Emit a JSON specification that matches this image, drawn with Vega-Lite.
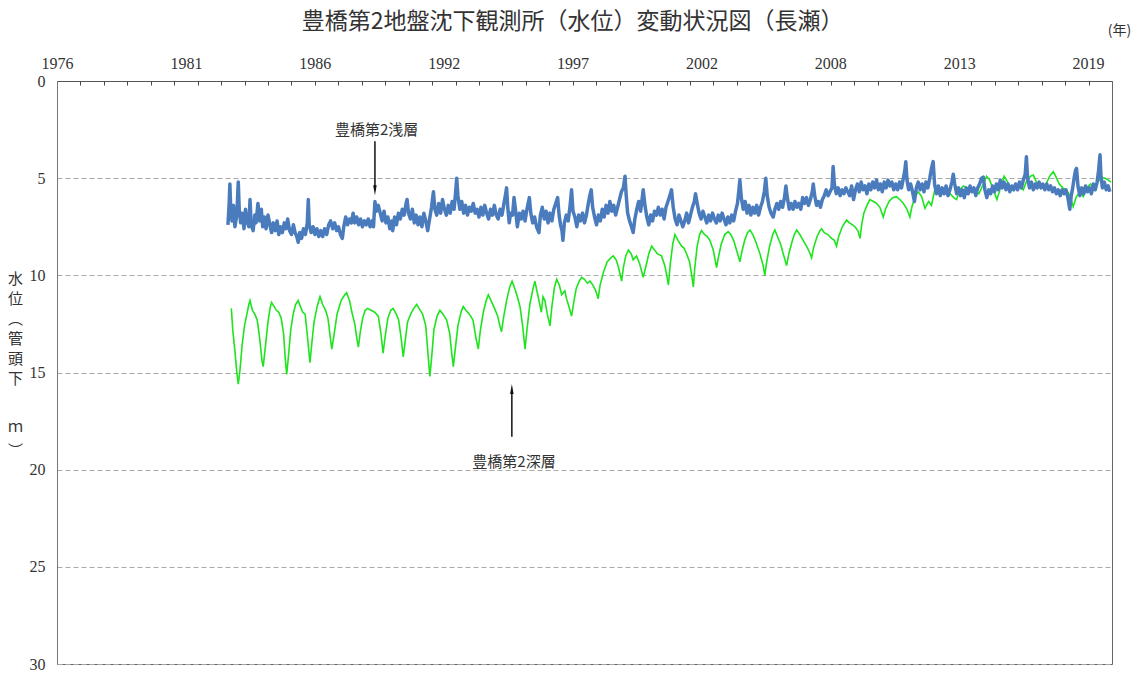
{
"$schema":"https://vega.github.io/schema/vega-lite/v6.json",
"width":1055,"height":583,
"autosize":{"type":"none"},
"padding":{"left":57,"top":81,"right":27,"bottom":10},
"background":"white",
"config":{"view":{"stroke":"#666","strokeWidth":1},"font":"Liberation Serif"},
"title":{"text":"豊橋第2地盤沈下観測所（水位）変動状況図（長瀬）","font":"Noto Sans CJK JP","fontSize":23,"fontWeight":"normal","color":"#333","anchor":"middle","offset":0,"dx":-12,"dy":11},
"datasets":{
"deep":[
{"x":1983.27,"y":11.7},{"x":1983.33,"y":12.8},{"x":1983.42,"y":13.9},{"x":1983.5,"y":15.0},{"x":1983.56,"y":15.6},{"x":1983.63,"y":14.9},{"x":1983.72,"y":13.6},{"x":1983.82,"y":12.6},{"x":1983.92,"y":12.0},
{"x":1984.0,"y":11.5},{"x":1984.05,"y":11.3},{"x":1984.15,"y":11.8},{"x":1984.25,"y":12.0},{"x":1984.35,"y":12.3},{"x":1984.45,"y":13.2},{"x":1984.55,"y":14.4},{"x":1984.6,"y":14.7},{"x":1984.68,"y":13.8},{"x":1984.8,"y":12.4},{"x":1984.9,"y":11.6},{"x":1984.95,"y":11.4},
{"x":1985.05,"y":11.6},{"x":1985.15,"y":11.8},{"x":1985.25,"y":11.9},{"x":1985.35,"y":12.2},{"x":1985.45,"y":13.0},{"x":1985.52,"y":14.3},{"x":1985.58,"y":15.1},{"x":1985.65,"y":14.2},{"x":1985.75,"y":12.8},{"x":1985.85,"y":12.0},{"x":1985.95,"y":11.5},
{"x":1986.06,"y":11.3},{"x":1986.15,"y":11.6},{"x":1986.25,"y":11.9},{"x":1986.35,"y":12.0},{"x":1986.45,"y":13.2},{"x":1986.55,"y":14.5},{"x":1986.62,"y":13.6},{"x":1986.72,"y":12.4},{"x":1986.85,"y":11.6},{"x":1986.97,"y":11.1},
{"x":1987.08,"y":11.5},{"x":1987.2,"y":11.8},{"x":1987.3,"y":12.2},{"x":1987.4,"y":13.2},{"x":1987.46,"y":13.8},{"x":1987.55,"y":13.1},{"x":1987.68,"y":12.0},{"x":1987.85,"y":11.3},{"x":1988.0,"y":11.0},
{"x":1988.08,"y":10.9},{"x":1988.2,"y":11.3},{"x":1988.3,"y":11.9},{"x":1988.42,"y":12.5},{"x":1988.5,"y":13.2},{"x":1988.57,"y":13.7},{"x":1988.65,"y":12.9},{"x":1988.75,"y":12.2},{"x":1988.85,"y":11.8},{"x":1988.95,"y":11.7},
{"x":1989.1,"y":11.8},{"x":1989.25,"y":11.9},{"x":1989.4,"y":12.1},{"x":1989.5,"y":12.9},{"x":1989.6,"y":14.0},{"x":1989.68,"y":13.2},{"x":1989.8,"y":12.2},{"x":1989.92,"y":11.8},{"x":1990.02,"y":11.7},
{"x":1990.15,"y":12.0},{"x":1990.25,"y":12.3},{"x":1990.35,"y":13.2},{"x":1990.44,"y":14.2},{"x":1990.52,"y":13.4},{"x":1990.62,"y":12.4},{"x":1990.75,"y":12.0},{"x":1990.88,"y":11.7},{"x":1991.0,"y":11.5},
{"x":1991.1,"y":11.7},{"x":1991.25,"y":12.0},{"x":1991.38,"y":12.6},{"x":1991.47,"y":14.0},{"x":1991.55,"y":15.2},{"x":1991.62,"y":14.3},{"x":1991.72,"y":12.8},{"x":1991.85,"y":12.1},{"x":1991.97,"y":11.8},
{"x":1992.1,"y":12.0},{"x":1992.25,"y":12.3},{"x":1992.38,"y":13.0},{"x":1992.47,"y":14.1},{"x":1992.53,"y":14.7},{"x":1992.6,"y":13.9},{"x":1992.72,"y":12.6},{"x":1992.85,"y":11.9},{"x":1992.94,"y":11.6},
{"x":1993.05,"y":11.8},{"x":1993.2,"y":12.0},{"x":1993.35,"y":12.3},{"x":1993.47,"y":13.2},{"x":1993.57,"y":13.8},{"x":1993.65,"y":12.9},{"x":1993.78,"y":11.9},{"x":1993.9,"y":11.3},{"x":1993.99,"y":11.0},
{"x":1994.1,"y":11.3},{"x":1994.25,"y":11.7},{"x":1994.38,"y":12.1},{"x":1994.47,"y":12.6},{"x":1994.54,"y":12.9},{"x":1994.62,"y":12.2},{"x":1994.75,"y":11.3},{"x":1994.88,"y":10.6},{"x":1994.98,"y":10.3},
{"x":1995.1,"y":10.7},{"x":1995.2,"y":11.1},{"x":1995.31,"y":11.6},{"x":1995.42,"y":12.6},{"x":1995.52,"y":13.8},{"x":1995.6,"y":12.8},{"x":1995.72,"y":11.5},{"x":1995.85,"y":10.7},{"x":1995.93,"y":10.3},
{"x":1996.05,"y":11.0},{"x":1996.2,"y":11.9},{"x":1996.27,"y":11.1},{"x":1996.35,"y":11.3},{"x":1996.45,"y":12.0},{"x":1996.56,"y":12.6},{"x":1996.65,"y":11.5},{"x":1996.75,"y":10.6},{"x":1996.84,"y":10.2},
{"x":1996.95,"y":10.5},{"x":1997.05,"y":11.0},{"x":1997.18,"y":10.8},{"x":1997.25,"y":11.2},{"x":1997.35,"y":11.6},{"x":1997.46,"y":12.1},{"x":1997.55,"y":11.4},{"x":1997.65,"y":10.7},{"x":1997.78,"y":10.3},{"x":1997.88,"y":10.1},
{"x":1998.0,"y":10.2},{"x":1998.12,"y":10.4},{"x":1998.23,"y":10.3},{"x":1998.35,"y":10.5},{"x":1998.47,"y":10.8},{"x":1998.57,"y":11.2},{"x":1998.65,"y":10.5},{"x":1998.8,"y":9.8},{"x":1998.95,"y":9.3},{"x":1999.1,"y":9.1},{"x":1999.2,"y":9.0},
{"x":1999.32,"y":9.2},{"x":1999.42,"y":9.6},{"x":1999.55,"y":10.3},{"x":1999.62,"y":9.6},{"x":1999.72,"y":9.0},{"x":1999.83,"y":8.7},
{"x":1999.95,"y":8.9},{"x":2000.03,"y":9.2},{"x":2000.17,"y":9.0},{"x":2000.3,"y":9.4},{"x":2000.45,"y":10.1},{"x":2000.55,"y":9.6},{"x":2000.68,"y":8.9},{"x":2000.8,"y":8.5},
{"x":2000.92,"y":8.7},{"x":2001.05,"y":8.9},{"x":2001.21,"y":9.0},{"x":2001.35,"y":9.5},{"x":2001.43,"y":10.0},{"x":2001.5,"y":10.5},{"x":2001.58,"y":9.4},{"x":2001.68,"y":8.4},{"x":2001.77,"y":7.9},
{"x":2001.9,"y":8.2},{"x":2002.05,"y":8.5},{"x":2002.15,"y":8.6},{"x":2002.26,"y":8.9},{"x":2002.38,"y":9.3},{"x":2002.47,"y":10.0},{"x":2002.54,"y":10.6},{"x":2002.6,"y":9.6},{"x":2002.7,"y":8.5},{"x":2002.8,"y":7.9},{"x":2002.88,"y":7.7},
{"x":2003.0,"y":7.9},{"x":2003.12,"y":8.0},{"x":2003.23,"y":8.2},{"x":2003.37,"y":8.7},{"x":2003.51,"y":9.6},{"x":2003.58,"y":9.1},{"x":2003.7,"y":8.4},{"x":2003.85,"y":7.9},{"x":2003.99,"y":7.75},
{"x":2004.1,"y":7.9},{"x":2004.22,"y":8.2},{"x":2004.34,"y":8.7},{"x":2004.48,"y":9.3},{"x":2004.56,"y":8.8},{"x":2004.68,"y":8.2},{"x":2004.8,"y":7.8},{"x":2004.9,"y":7.67},
{"x":2005.02,"y":7.9},{"x":2005.15,"y":8.3},{"x":2005.32,"y":8.9},{"x":2005.45,"y":9.5},{"x":2005.52,"y":10.0},{"x":2005.6,"y":9.3},{"x":2005.72,"y":8.5},{"x":2005.85,"y":7.9},{"x":2005.94,"y":7.67},
{"x":2006.05,"y":8.0},{"x":2006.18,"y":8.4},{"x":2006.29,"y":8.9},{"x":2006.43,"y":9.5},{"x":2006.52,"y":8.9},{"x":2006.65,"y":8.3},{"x":2006.75,"y":7.9},{"x":2006.85,"y":7.67},
{"x":2006.98,"y":7.9},{"x":2007.12,"y":8.2},{"x":2007.26,"y":8.5},{"x":2007.38,"y":8.8},{"x":2007.47,"y":9.1},{"x":2007.55,"y":8.6},{"x":2007.7,"y":8.0},{"x":2007.82,"y":7.7},{"x":2007.89,"y":7.6},
{"x":2008.0,"y":7.8},{"x":2008.15,"y":7.9},{"x":2008.3,"y":8.1},{"x":2008.42,"y":8.2},{"x":2008.51,"y":8.5},{"x":2008.6,"y":8.0},{"x":2008.75,"y":7.5},{"x":2008.93,"y":7.15},
{"x":2009.05,"y":7.3},{"x":2009.18,"y":7.4},{"x":2009.28,"y":7.5},{"x":2009.4,"y":7.7},{"x":2009.49,"y":8.1},{"x":2009.56,"y":7.4},{"x":2009.65,"y":6.8},{"x":2009.78,"y":6.4},{"x":2009.9,"y":6.1},
{"x":2010.05,"y":6.2},{"x":2010.18,"y":6.3},{"x":2010.32,"y":6.5},{"x":2010.46,"y":7.0},{"x":2010.55,"y":6.6},{"x":2010.7,"y":6.2},{"x":2010.85,"y":6.0},{"x":2011.01,"y":5.95},
{"x":2011.15,"y":6.1},{"x":2011.3,"y":6.3},{"x":2011.45,"y":6.6},{"x":2011.57,"y":7.0},{"x":2011.65,"y":6.5},{"x":2011.8,"y":5.9},{"x":2011.92,"y":5.7},
{"x":2012.06,"y":5.95},{"x":2012.2,"y":6.55},{"x":2012.35,"y":6.2},{"x":2012.47,"y":6.4},{"x":2012.61,"y":5.6},{"x":2012.75,"y":5.5},{"x":2012.9,"y":5.8},
{"x":2013.1,"y":5.6},{"x":2013.25,"y":5.8},{"x":2013.4,"y":6.0},{"x":2013.52,"y":6.1},{"x":2013.65,"y":5.6},{"x":2013.8,"y":5.4},{"x":2013.95,"y":5.5},
{"x":2014.1,"y":5.5},{"x":2014.3,"y":5.6},{"x":2014.45,"y":5.8},{"x":2014.6,"y":5.4},{"x":2014.77,"y":4.9},{"x":2014.9,"y":5.1},
{"x":2015.05,"y":5.6},{"x":2015.2,"y":6.1},{"x":2015.35,"y":5.5},{"x":2015.5,"y":4.9},{"x":2015.65,"y":5.2},{"x":2015.8,"y":5.6},{"x":2015.95,"y":5.4},
{"x":2016.1,"y":5.3},{"x":2016.3,"y":5.6},{"x":2016.45,"y":5.1},{"x":2016.6,"y":4.9},{"x":2016.72,"y":4.84},{"x":2016.85,"y":5.2},{"x":2016.95,"y":5.4},
{"x":2017.1,"y":5.5},{"x":2017.25,"y":5.3},{"x":2017.4,"y":4.9},{"x":2017.55,"y":4.67},{"x":2017.65,"y":4.9},{"x":2017.8,"y":5.3},{"x":2017.95,"y":5.5},
{"x":2018.1,"y":5.6},{"x":2018.25,"y":5.9},{"x":2018.38,"y":6.47},{"x":2018.5,"y":6.0},{"x":2018.65,"y":5.7},{"x":2018.8,"y":5.95},{"x":2018.95,"y":5.5},
{"x":2019.1,"y":5.3},{"x":2019.25,"y":5.6},{"x":2019.4,"y":5.2},{"x":2019.55,"y":5.0},{"x":2019.7,"y":5.0},{"x":2019.85,"y":5.1},{"x":2019.95,"y":5.2}
],
"shallow":[
{"x":1983.13,"y":7.4},{"x":1983.18,"y":6.3},{"x":1983.21,"y":5.3},{"x":1983.25,"y":6.8},{"x":1983.3,"y":7.2},{"x":1983.36,"y":6.4},{"x":1983.42,"y":7.5},{"x":1983.5,"y":6.9},{"x":1983.56,"y":5.2},{"x":1983.6,"y":6.6},{"x":1983.66,"y":7.3},{"x":1983.72,"y":6.8},{"x":1983.8,"y":7.6},{"x":1983.86,"y":6.6},{"x":1983.92,"y":7.2},
{"x":1984.0,"y":7.5},{"x":1984.05,"y":6.1},{"x":1984.1,"y":7.4},{"x":1984.18,"y":7.7},{"x":1984.25,"y":6.9},{"x":1984.3,"y":7.3},{"x":1984.38,"y":6.3},{"x":1984.45,"y":7.2},{"x":1984.52,"y":6.6},{"x":1984.58,"y":7.5},{"x":1984.65,"y":7.0},{"x":1984.72,"y":7.6},{"x":1984.8,"y":6.9},{"x":1984.88,"y":7.4},{"x":1984.95,"y":7.8},
{"x":1985.02,"y":7.3},{"x":1985.1,"y":7.7},{"x":1985.18,"y":7.2},{"x":1985.25,"y":7.9},{"x":1985.32,"y":7.5},{"x":1985.4,"y":7.8},{"x":1985.48,"y":7.3},{"x":1985.55,"y":7.6},{"x":1985.62,"y":7.1},{"x":1985.7,"y":7.7},{"x":1985.78,"y":7.9},{"x":1985.86,"y":7.4},{"x":1985.93,"y":7.8},
{"x":1986.0,"y":8.0},{"x":1986.06,"y":8.3},{"x":1986.12,"y":7.8},{"x":1986.2,"y":8.1},{"x":1986.28,"y":7.6},{"x":1986.36,"y":7.9},{"x":1986.44,"y":7.3},{"x":1986.48,"y":6.1},{"x":1986.52,"y":7.4},{"x":1986.6,"y":7.8},{"x":1986.68,"y":7.5},{"x":1986.76,"y":7.9},{"x":1986.84,"y":7.6},{"x":1986.92,"y":8.0},
{"x":1987.0,"y":7.7},{"x":1987.08,"y":8.0},{"x":1987.16,"y":7.6},{"x":1987.25,"y":7.9},{"x":1987.33,"y":7.4},{"x":1987.41,"y":7.2},{"x":1987.5,"y":7.6},{"x":1987.58,"y":7.3},{"x":1987.66,"y":7.7},{"x":1987.74,"y":7.5},{"x":1987.82,"y":7.9},{"x":1987.9,"y":8.1},{"x":1987.96,"y":7.5},
{"x":1988.04,"y":7.0},{"x":1988.12,"y":7.4},{"x":1988.2,"y":7.1},{"x":1988.28,"y":7.3},{"x":1988.35,"y":6.8},{"x":1988.42,"y":7.3},{"x":1988.5,"y":7.0},{"x":1988.58,"y":7.4},{"x":1988.66,"y":7.1},{"x":1988.74,"y":7.5},{"x":1988.82,"y":7.2},{"x":1988.9,"y":7.4},{"x":1988.98,"y":7.1},
{"x":1989.06,"y":7.5},{"x":1989.14,"y":7.2},{"x":1989.2,"y":7.5},{"x":1989.26,"y":6.2},{"x":1989.32,"y":6.7},{"x":1989.4,"y":6.4},{"x":1989.48,"y":6.8},{"x":1989.56,"y":7.2},{"x":1989.64,"y":6.7},{"x":1989.72,"y":7.3},{"x":1989.8,"y":7.0},{"x":1989.88,"y":7.6},{"x":1989.96,"y":7.2},
{"x":1990.0,"y":7.7},{"x":1990.08,"y":7.0},{"x":1990.16,"y":7.4},{"x":1990.24,"y":6.8},{"x":1990.32,"y":7.1},{"x":1990.4,"y":6.6},{"x":1990.48,"y":6.9},{"x":1990.56,"y":6.3},{"x":1990.6,"y":6.1},{"x":1990.66,"y":6.8},{"x":1990.74,"y":7.1},{"x":1990.82,"y":6.6},{"x":1990.9,"y":7.3},{"x":1990.98,"y":6.9},
{"x":1991.06,"y":7.4},{"x":1991.14,"y":7.0},{"x":1991.22,"y":7.5},{"x":1991.3,"y":6.8},{"x":1991.38,"y":7.2},{"x":1991.46,"y":7.7},{"x":1991.54,"y":7.1},{"x":1991.62,"y":6.5},{"x":1991.7,"y":5.7},{"x":1991.76,"y":6.6},{"x":1991.84,"y":6.9},{"x":1991.92,"y":6.3},
{"x":1992.0,"y":6.8},{"x":1992.08,"y":6.1},{"x":1992.16,"y":6.6},{"x":1992.24,"y":6.9},{"x":1992.32,"y":6.4},{"x":1992.4,"y":6.8},{"x":1992.48,"y":6.2},{"x":1992.56,"y":6.6},{"x":1992.62,"y":5.8},{"x":1992.67,"y":5.0},{"x":1992.72,"y":5.9},{"x":1992.8,"y":6.6},{"x":1992.88,"y":6.2},{"x":1992.96,"y":6.8},
{"x":1993.04,"y":6.4},{"x":1993.12,"y":6.9},{"x":1993.2,"y":6.5},{"x":1993.28,"y":6.7},{"x":1993.36,"y":6.3},{"x":1993.44,"y":6.8},{"x":1993.52,"y":6.6},{"x":1993.6,"y":7.0},{"x":1993.68,"y":6.5},{"x":1993.76,"y":6.9},{"x":1993.84,"y":6.4},{"x":1993.92,"y":6.8},
{"x":1994.0,"y":7.1},{"x":1994.08,"y":6.6},{"x":1994.16,"y":6.9},{"x":1994.24,"y":6.4},{"x":1994.32,"y":6.9},{"x":1994.4,"y":7.1},{"x":1994.48,"y":6.6},{"x":1994.56,"y":6.9},{"x":1994.64,"y":6.3},{"x":1994.7,"y":5.9},{"x":1994.75,"y":5.5},{"x":1994.8,"y":6.5},{"x":1994.86,"y":7.3},{"x":1994.92,"y":6.8},
{"x":1995.0,"y":6.9},{"x":1995.06,"y":6.0},{"x":1995.12,"y":6.6},{"x":1995.2,"y":7.5},{"x":1995.28,"y":6.8},{"x":1995.36,"y":7.1},{"x":1995.44,"y":6.7},{"x":1995.52,"y":7.2},{"x":1995.6,"y":6.6},{"x":1995.7,"y":6.0},{"x":1995.76,"y":6.8},{"x":1995.84,"y":7.3},{"x":1995.92,"y":7.0},
{"x":1996.0,"y":7.5},{"x":1996.1,"y":7.8},{"x":1996.16,"y":6.9},{"x":1996.24,"y":6.5},{"x":1996.32,"y":7.1},{"x":1996.4,"y":6.7},{"x":1996.48,"y":7.3},{"x":1996.56,"y":6.8},{"x":1996.64,"y":7.2},{"x":1996.72,"y":6.6},{"x":1996.8,"y":6.3},{"x":1996.88,"y":6.0},{"x":1996.94,"y":6.9},
{"x":1997.0,"y":7.4},{"x":1997.06,"y":7.7},{"x":1997.1,"y":8.2},{"x":1997.16,"y":7.3},{"x":1997.24,"y":6.9},{"x":1997.32,"y":7.2},{"x":1997.4,"y":6.4},{"x":1997.46,"y":5.6},{"x":1997.52,"y":6.7},{"x":1997.6,"y":7.0},{"x":1997.68,"y":7.5},{"x":1997.76,"y":6.9},{"x":1997.84,"y":7.2},{"x":1997.92,"y":6.8},
{"x":1998.0,"y":7.3},{"x":1998.08,"y":6.9},{"x":1998.16,"y":6.3},{"x":1998.22,"y":5.9},{"x":1998.28,"y":5.6},{"x":1998.34,"y":6.5},{"x":1998.42,"y":7.0},{"x":1998.5,"y":7.4},{"x":1998.58,"y":6.9},{"x":1998.66,"y":7.2},{"x":1998.74,"y":6.6},{"x":1998.82,"y":7.0},{"x":1998.9,"y":6.4},{"x":1998.98,"y":6.8},
{"x":1999.06,"y":6.2},{"x":1999.14,"y":6.7},{"x":1999.22,"y":6.4},{"x":1999.3,"y":6.9},{"x":1999.38,"y":6.5},{"x":1999.46,"y":6.1},{"x":1999.54,"y":5.7},{"x":1999.62,"y":5.5},{"x":1999.69,"y":4.9},{"x":1999.74,"y":5.9},{"x":1999.8,"y":6.8},{"x":1999.88,"y":7.2},{"x":1999.96,"y":7.5},
{"x":2000.03,"y":7.8},{"x":2000.1,"y":7.1},{"x":2000.18,"y":6.6},{"x":2000.26,"y":6.2},{"x":2000.34,"y":6.7},{"x":2000.4,"y":6.1},{"x":2000.45,"y":5.6},{"x":2000.52,"y":6.4},{"x":2000.6,"y":7.0},{"x":2000.68,"y":7.4},{"x":2000.76,"y":6.9},{"x":2000.84,"y":7.2},{"x":2000.92,"y":6.7},
{"x":2001.0,"y":6.9},{"x":2001.08,"y":6.5},{"x":2001.16,"y":6.9},{"x":2001.24,"y":6.6},{"x":2001.32,"y":7.1},{"x":2001.4,"y":6.5},{"x":2001.48,"y":6.2},{"x":2001.56,"y":5.9},{"x":2001.63,"y":5.6},{"x":2001.7,"y":6.5},{"x":2001.78,"y":7.1},{"x":2001.86,"y":7.4},{"x":2001.94,"y":6.9},
{"x":2002.02,"y":7.2},{"x":2002.1,"y":7.5},{"x":2002.18,"y":7.2},{"x":2002.26,"y":6.8},{"x":2002.34,"y":7.3},{"x":2002.42,"y":6.9},{"x":2002.5,"y":6.5},{"x":2002.58,"y":6.2},{"x":2002.63,"y":5.8},{"x":2002.7,"y":6.3},{"x":2002.78,"y":6.8},{"x":2002.86,"y":7.1},{"x":2002.94,"y":6.7},
{"x":2003.02,"y":7.0},{"x":2003.1,"y":7.3},{"x":2003.18,"y":6.9},{"x":2003.26,"y":7.2},{"x":2003.34,"y":6.8},{"x":2003.42,"y":7.1},{"x":2003.5,"y":7.3},{"x":2003.58,"y":6.9},{"x":2003.66,"y":7.2},{"x":2003.74,"y":6.8},{"x":2003.82,"y":7.1},{"x":2003.9,"y":7.4},{"x":2003.98,"y":7.0},
{"x":2004.06,"y":7.3},{"x":2004.14,"y":6.9},{"x":2004.22,"y":7.2},{"x":2004.3,"y":6.7},{"x":2004.38,"y":6.3},{"x":2004.44,"y":5.6},{"x":2004.48,"y":5.1},{"x":2004.54,"y":6.0},{"x":2004.62,"y":6.6},{"x":2004.7,"y":6.2},{"x":2004.78,"y":6.8},{"x":2004.86,"y":6.4},{"x":2004.94,"y":6.9},
{"x":2005.02,"y":6.5},{"x":2005.1,"y":6.8},{"x":2005.18,"y":6.4},{"x":2005.26,"y":6.9},{"x":2005.34,"y":6.5},{"x":2005.42,"y":6.2},{"x":2005.5,"y":5.7},{"x":2005.56,"y":5.0},{"x":2005.62,"y":5.9},{"x":2005.7,"y":6.5},{"x":2005.78,"y":6.8},{"x":2005.87,"y":7.0},{"x":2005.94,"y":6.6},
{"x":2006.02,"y":6.3},{"x":2006.1,"y":6.6},{"x":2006.18,"y":6.2},{"x":2006.26,"y":6.5},{"x":2006.34,"y":6.0},{"x":2006.4,"y":5.4},{"x":2006.46,"y":6.0},{"x":2006.54,"y":6.6},{"x":2006.62,"y":6.3},{"x":2006.7,"y":6.6},{"x":2006.78,"y":6.2},{"x":2006.86,"y":6.5},{"x":2006.94,"y":6.3},
{"x":2007.02,"y":6.6},{"x":2007.1,"y":6.0},{"x":2007.18,"y":6.3},{"x":2007.26,"y":6.0},{"x":2007.34,"y":6.4},{"x":2007.42,"y":6.1},{"x":2007.5,"y":5.7},{"x":2007.54,"y":5.3},{"x":2007.6,"y":5.9},{"x":2007.68,"y":6.4},{"x":2007.76,"y":6.2},{"x":2007.84,"y":6.5},{"x":2007.92,"y":6.1},
{"x":2008.0,"y":5.9},{"x":2008.08,"y":5.6},{"x":2008.16,"y":5.9},{"x":2008.24,"y":5.7},{"x":2008.32,"y":5.5},{"x":2008.37,"y":4.4},{"x":2008.42,"y":5.3},{"x":2008.5,"y":5.8},{"x":2008.58,"y":5.5},{"x":2008.66,"y":5.9},{"x":2008.74,"y":5.6},{"x":2008.82,"y":5.8},{"x":2008.9,"y":5.5},{"x":2008.98,"y":5.7},
{"x":2009.06,"y":5.9},{"x":2009.14,"y":5.4},{"x":2009.22,"y":6.1},{"x":2009.3,"y":5.6},{"x":2009.38,"y":5.3},{"x":2009.46,"y":5.7},{"x":2009.54,"y":5.2},{"x":2009.62,"y":5.6},{"x":2009.7,"y":5.4},{"x":2009.78,"y":5.8},{"x":2009.86,"y":5.3},{"x":2009.94,"y":5.6},
{"x":2010.02,"y":5.2},{"x":2010.1,"y":5.5},{"x":2010.18,"y":5.1},{"x":2010.26,"y":5.6},{"x":2010.34,"y":5.3},{"x":2010.42,"y":5.7},{"x":2010.5,"y":5.2},{"x":2010.58,"y":5.5},{"x":2010.66,"y":5.1},{"x":2010.74,"y":5.4},{"x":2010.82,"y":5.2},{"x":2010.9,"y":5.6},{"x":2010.98,"y":5.3},
{"x":2011.06,"y":5.6},{"x":2011.14,"y":5.2},{"x":2011.22,"y":5.5},{"x":2011.3,"y":5.0},{"x":2011.36,"y":4.6},{"x":2011.4,"y":4.15},{"x":2011.45,"y":5.1},{"x":2011.52,"y":5.6},{"x":2011.6,"y":5.3},{"x":2011.68,"y":5.7},{"x":2011.76,"y":6.2},{"x":2011.84,"y":5.5},{"x":2011.92,"y":5.2},
{"x":2012.0,"y":5.6},{"x":2012.08,"y":5.3},{"x":2012.16,"y":5.7},{"x":2012.24,"y":5.2},{"x":2012.32,"y":5.5},{"x":2012.4,"y":5.0},{"x":2012.47,"y":4.5},{"x":2012.54,"y":4.15},{"x":2012.6,"y":5.3},{"x":2012.68,"y":5.8},{"x":2012.76,"y":5.4},{"x":2012.84,"y":5.9},{"x":2012.92,"y":5.5},
{"x":2013.0,"y":5.8},{"x":2013.08,"y":5.4},{"x":2013.16,"y":5.9},{"x":2013.24,"y":5.6},{"x":2013.32,"y":5.2},{"x":2013.38,"y":4.8},{"x":2013.44,"y":5.3},{"x":2013.52,"y":5.8},{"x":2013.6,"y":5.5},{"x":2013.68,"y":5.9},{"x":2013.76,"y":5.6},{"x":2013.84,"y":6.0},{"x":2013.92,"y":5.5},
{"x":2014.0,"y":5.8},{"x":2014.08,"y":5.4},{"x":2014.16,"y":5.7},{"x":2014.24,"y":5.5},{"x":2014.32,"y":5.9},{"x":2014.4,"y":5.5},{"x":2014.48,"y":5.3},{"x":2014.56,"y":5.0},{"x":2014.63,"y":4.95},{"x":2014.7,"y":5.6},{"x":2014.78,"y":6.0},{"x":2014.86,"y":5.6},{"x":2014.94,"y":5.8},
{"x":2015.02,"y":5.4},{"x":2015.1,"y":5.7},{"x":2015.18,"y":5.3},{"x":2015.26,"y":5.6},{"x":2015.34,"y":5.1},{"x":2015.42,"y":5.5},{"x":2015.5,"y":5.2},{"x":2015.58,"y":5.6},{"x":2015.66,"y":5.3},{"x":2015.74,"y":5.7},{"x":2015.82,"y":5.4},{"x":2015.9,"y":5.6},{"x":2015.98,"y":5.3},
{"x":2016.06,"y":5.6},{"x":2016.14,"y":5.2},{"x":2016.22,"y":5.5},{"x":2016.3,"y":5.1},{"x":2016.38,"y":4.8},{"x":2016.43,"y":3.9},{"x":2016.48,"y":5.0},{"x":2016.56,"y":5.5},{"x":2016.64,"y":5.2},{"x":2016.72,"y":5.6},{"x":2016.8,"y":5.3},{"x":2016.88,"y":5.5},{"x":2016.96,"y":5.2},
{"x":2017.04,"y":5.5},{"x":2017.12,"y":5.3},{"x":2017.2,"y":5.6},{"x":2017.28,"y":5.3},{"x":2017.36,"y":5.6},{"x":2017.44,"y":5.4},{"x":2017.52,"y":5.7},{"x":2017.6,"y":5.5},{"x":2017.68,"y":5.8},{"x":2017.76,"y":5.6},{"x":2017.84,"y":5.9},{"x":2017.92,"y":5.6},
{"x":2018.0,"y":5.8},{"x":2018.08,"y":5.6},{"x":2018.16,"y":6.0},{"x":2018.24,"y":6.6},{"x":2018.3,"y":5.9},{"x":2018.36,"y":5.5},{"x":2018.42,"y":5.0},{"x":2018.48,"y":4.6},{"x":2018.52,"y":4.5},{"x":2018.58,"y":5.4},{"x":2018.66,"y":5.9},{"x":2018.74,"y":5.5},{"x":2018.82,"y":5.8},{"x":2018.9,"y":5.4},{"x":2018.98,"y":5.7},
{"x":2019.06,"y":5.5},{"x":2019.14,"y":5.8},{"x":2019.22,"y":5.3},{"x":2019.3,"y":5.6},{"x":2019.38,"y":5.2},{"x":2019.44,"y":4.6},{"x":2019.5,"y":3.8},{"x":2019.54,"y":4.9},{"x":2019.6,"y":5.5},{"x":2019.68,"y":5.2},{"x":2019.76,"y":5.6},{"x":2019.84,"y":5.4},{"x":2019.91,"y":5.7}
],
"notes":[{"x":1989.33,"y":2.52,"label":"豊橋第2浅層"},{"x":1995.06,"y":19.6,"label":"豊橋第2深層"}],
"arrows":[{"x":1989.26,"y1":3.1,"y2":5.45,"hy":5.62,"head":"down"},{"x":1994.97,"y1":18.3,"y2":16.0,"hy":15.85,"head":"up"}]
},
"layer":[
{"data":{"name":"deep"},"mark":{"type":"line","color":"#1ee41e","strokeWidth":1.6},
 "encoding":{
  "x":{"field":"x","type":"quantitative","scale":{"domain":[1976,2020],"nice":false,"zero":false},
   "axis":{"orient":"top","labels":false,"domain":false,"grid":false,"ticks":true,"tickSize":-4,"tickColor":"#444","tickWidth":1,"title":null,
    "values":[1976.978,1977.956,1978.933,1979.911,1980.889,1981.867,1982.844,1983.822,1984.8,1985.778,1986.756,1987.733,1988.711,1989.689,1990.667,1991.644,1992.622,1993.6,1994.578,1995.556,1996.533,1997.511,1998.489,1999.467,2000.444,2001.422,2002.4,2003.378,2004.356,2005.333,2006.311,2007.289,2008.267,2009.244,2010.222,2011.2,2012.178,2013.156,2014.133,2015.111,2016.089,2017.067,2018.044,2019.022]}},
  "y":{"field":"y","type":"quantitative","scale":{"domain":[0,30],"reverse":true,"nice":false,"zero":false},
   "axis":{"orient":"left","labels":false,"ticks":false,"domain":false,"grid":false,
    "title":["ｍ","︶"],"titleFont":"Noto Sans CJK JP","titleFontSize":15,"titleFontWeight":"normal","titleColor":"#333","titleAngle":0,"titleAlign":"center","titleBaseline":"top","titleLineHeight":24,"titleX":-42,"titleY":338}}}},
{"data":{"name":"shallow"},"mark":{"type":"line","color":"#4a7cbd","strokeWidth":3.5,"strokeJoin":"round"},
 "encoding":{
  "x":{"field":"x","type":"quantitative",
   "axis":{"orient":"top","values":[1976,1981.375,1986.75,1992.125,1997.5,2002.875,2008.25,2013.625,2019],"labelExpr":"'' + floor(datum.value)","ticks":false,"tickSize":0,"grid":false,"domain":true,"domainColor":"#555","labelFont":"Liberation Serif","labelFontSize":16,"labelColor":"#333","labelPadding":10,"labelFlush":false,"labelOverlap":false,
    "title":"(年)","titleFont":"Noto Sans CJK JP","titleFontSize":14,"titleFontWeight":"normal","titleColor":"#333","titleAngle":0,"titleAlign":"center","titleBaseline":"middle","titleX":1062,"titleY":-51}},
  "y":{"field":"y","type":"quantitative",
   "axis":{"orient":"left","values":[0,5,10,15,20,25,30],"ticks":false,"tickSize":0,"domain":true,"domainColor":"#777","grid":true,"gridColor":"#aaa","gridDash":[5,3],"gridWidth":1,"labelFont":"Liberation Serif","labelFontSize":16,"labelColor":"#333","labelPadding":12,
    "title":["水","位","︵","管","頭","下"],"titleFont":"Noto Sans CJK JP","titleFontSize":15,"titleFontWeight":"normal","titleColor":"#333","titleAngle":0,"titleAlign":"center","titleBaseline":"top","titleLineHeight":20,"titleX":-42,"titleY":190}}}},
{"data":{"name":"arrows"},"mark":{"type":"rule","color":"#111","strokeWidth":1.5},
 "encoding":{"x":{"field":"x","type":"quantitative","axis":null},"y":{"field":"y1","type":"quantitative","axis":null},"y2":{"field":"y2"}}},
{"data":{"name":"arrows"},"mark":{"type":"point","filled":true,"color":"#111","opacity":1,"size":100},
 "encoding":{"x":{"field":"x","type":"quantitative","axis":null},"y":{"field":"hy","type":"quantitative","axis":null},
  "shape":{"field":"head","type":"nominal","scale":{"domain":["down","up"],"range":["M-0.35,-1L0.35,-1L0,1Z","M-0.35,1L0.35,1L0,-1Z"]},"legend":null}}},
{"data":{"name":"notes"},"mark":{"type":"text","font":"Noto Sans CJK JP","fontSize":15,"color":"#333","baseline":"middle","align":"center"},
 "encoding":{"x":{"field":"x","type":"quantitative","axis":null},"y":{"field":"y","type":"quantitative","axis":null},"text":{"field":"label"}}}
],
"resolve":{"axis":{"x":"independent","y":"independent"}}
}
